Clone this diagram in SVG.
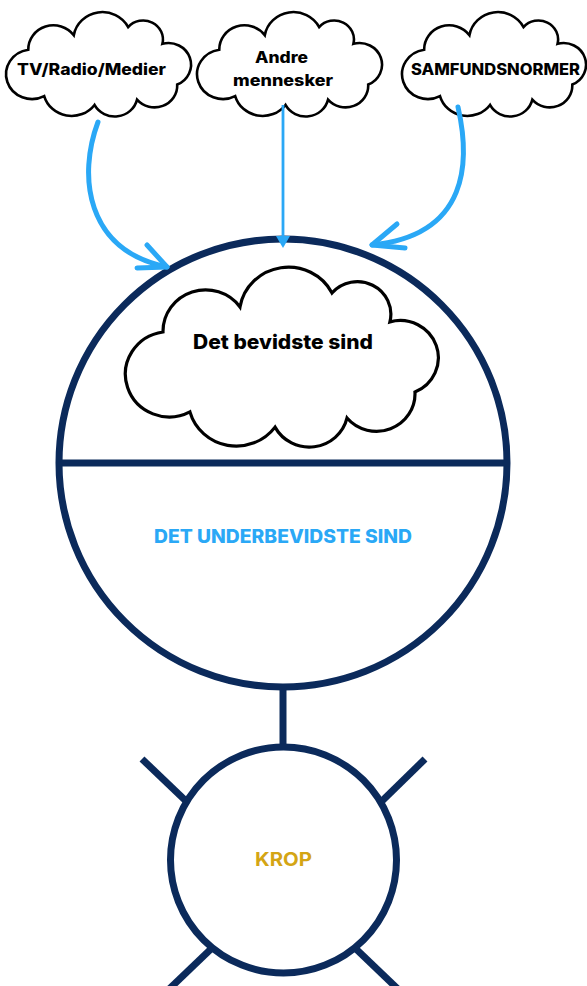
<svg xmlns="http://www.w3.org/2000/svg" xmlns:xlink="http://www.w3.org/1999/xlink" width="587" height="986" viewBox="0 0 587 986">
<style>
.bg{fill:#ffffff}
.cloud{fill:#ffffff;stroke:#000000}
.small{stroke-width:2.6}
.big{stroke-width:3.2}
.navy{fill:none;stroke:#0b2a5b;stroke-width:7}
.navyline{stroke:#0b2a5b;stroke-width:7;fill:none}
.blue{fill:none;stroke:#2aa8f6;stroke-width:5;stroke-linecap:round;stroke-linejoin:round}
.blue-thin{fill:none;stroke:#2aa8f6;stroke-width:2.8}
.lbl{font-family:"Inter","Noto Sans","Liberation Sans",sans-serif;font-weight:800;fill:#000000;text-anchor:middle}
.sub{font-family:"Inter","Noto Sans","Liberation Sans",sans-serif;font-weight:800;fill:#2aa8f6;text-anchor:middle}
.krop{font-family:"Inter","Noto Sans","Liberation Sans",sans-serif;font-weight:700;fill:#d4a514;text-anchor:middle}
</style>
<defs>
<path id="cloud" vector-effect="non-scaling-stroke" d="M11.5,21.3 A13.6,13.6 0 0 1 36.1,13.1 A15.7,15.7 0 0 1 65.5,8.5 A10.7,10.7 0 0 1 84,18 A12.2,12.2 0 0 1 92,41 A12.3,12.3 0 0 1 70.3,49.5 A12.4,12.4 0 0 1 47.3,52.5 A15.4,15.4 0 0 1 20.1,47.5 A14,14 0 1 1 11.5,21.3 Z"/>
</defs>
<rect class="bg" x="0" y="0" width="587" height="986"/>

<g id="mind">
<circle class="navy" cx="283" cy="463" r="224"/>
<line class="navyline" x1="58" y1="463" x2="508" y2="463"/>
<text class="sub" x="283" y="543" font-size="18.5" textLength="258" lengthAdjust="spacingAndGlyphs">DET UNDERBEVIDSTE SIND</text>
</g>

<g id="conscious">
<use href="#cloud" class="cloud big" transform="translate(127,267) scale(3.13,3.05)"/>
<text class="lbl" x="283" y="349" font-size="19.5" textLength="180" lengthAdjust="spacingAndGlyphs">Det bevidste sind</text>
</g>

<g id="body">
<line class="navyline" x1="283" y1="687" x2="283" y2="747"/>
<circle class="navy" cx="283.5" cy="860" r="113"/>
<line class="navyline" x1="142" y1="759" x2="187" y2="802"/>
<line class="navyline" x1="425" y1="759" x2="381" y2="802"/>
<line class="navyline" x1="212" y1="948" x2="165" y2="993"/>
<line class="navyline" x1="355" y1="948" x2="402" y2="993"/>
<text class="krop" x="283.5" y="866" font-size="19" textLength="57" lengthAdjust="spacingAndGlyphs">KROP</text>
</g>

<g id="tv">
<use href="#cloud" class="cloud small" transform="translate(7,12) scale(1.85,1.77)"/>
<text class="lbl" x="91.5" y="75" font-size="16" textLength="149" lengthAdjust="spacingAndGlyphs">TV/Radio/Medier</text>
</g>

<g id="andre">
<use href="#cloud" class="cloud small" transform="translate(198,12) scale(1.85,1.77)"/>
<text class="lbl" x="281.5" y="63" font-size="15.5" textLength="53" lengthAdjust="spacingAndGlyphs">Andre</text>
<text class="lbl" x="283" y="86" font-size="15.5" textLength="100" lengthAdjust="spacingAndGlyphs">mennesker</text>
</g>

<g id="samfund">
<use href="#cloud" class="cloud small" transform="translate(403,12) scale(1.84,1.77)"/>
<text class="lbl" x="495.5" y="75" font-size="15.5" textLength="169" lengthAdjust="spacingAndGlyphs">SAMFUNDSNORMER</text>
</g>

<g id="connectors">
<path class="blue" d="M98,122 C78,175 85,250 167,267"/>
<path class="blue" d="M147,245 L167,267 L137,268"/>
<line class="blue-thin" x1="283" y1="105" x2="283" y2="238"/>
<polygon points="276,236 290,236 283,248" fill="#2aa8f6"/>
<path class="blue" d="M458,107 C470,160 470,235 372,245"/>
<path class="blue" d="M397,224 L372,245 L405,248"/>
</g>
</svg>
